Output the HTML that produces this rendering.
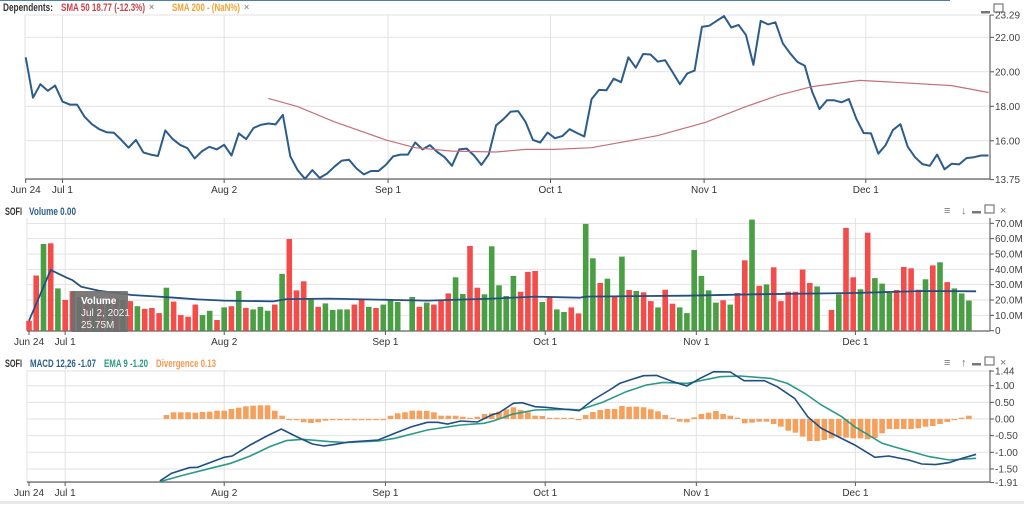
<!DOCTYPE html>
<html><head><meta charset="utf-8">
<style>
body{margin:0;background:#fff;width:1024px;height:504px;overflow:hidden;font-family:"Liberation Sans",sans-serif;}
svg text{font-family:"Liberation Sans",sans-serif;}
</style></head>
<body>
<svg id="chart" width="1024" height="504" viewBox="0 0 1024 504" xmlns="http://www.w3.org/2000/svg">
<line x1="0" y1="0.5" x2="950" y2="0.5" stroke="#4a7fb0" stroke-width="1"/>
<g font-size="11" font-weight="bold">
<text x="3" y="11" fill="#333" textLength="50" lengthAdjust="spacingAndGlyphs">Dependents:</text>
<text x="61" y="11" fill="#c9424a" textLength="84" lengthAdjust="spacingAndGlyphs">SMA 50 18.77 (-12.3%)</text>
<text x="149" y="10" fill="#999" font-size="9">×</text>
<text x="172" y="11" fill="#f0a534" textLength="68" lengthAdjust="spacingAndGlyphs">SMA 200 - (NaN%)</text>
<text x="244" y="10" fill="#999" font-size="9">×</text>
</g>
<g font-size="11" font-weight="bold">
<text x="5" y="215" fill="#333" textLength="17" lengthAdjust="spacingAndGlyphs">SOFI</text>
<text x="29" y="215" fill="#2c5f8f" textLength="47" lengthAdjust="spacingAndGlyphs">Volume 0.00</text>
</g>
<g font-size="11" font-weight="bold">
<text x="5" y="367" fill="#333" textLength="17" lengthAdjust="spacingAndGlyphs">SOFI</text>
<text x="30" y="367" fill="#2c5f8f" textLength="66" lengthAdjust="spacingAndGlyphs">MACD 12,26 -1.07</text>
<text x="104" y="367" fill="#2a9a88" textLength="44" lengthAdjust="spacingAndGlyphs">EMA 9 -1.20</text>
<text x="156" y="367" fill="#f39a50" textLength="60" lengthAdjust="spacingAndGlyphs">Divergence 0.13</text>
</g>
<g fill="#777" font-size="11">
<rect x="981" y="11" width="9" height="2.5" fill="#777"/>
<rect x="994" y="4" width="9" height="8" fill="none" stroke="#777" stroke-width="1.2"/>
<text x="944" y="214">≡</text>
<text x="961" y="214">↓</text>
<rect x="972" y="211" width="9" height="2.5" fill="#777"/>
<rect x="985" y="205" width="9" height="8" fill="none" stroke="#777" stroke-width="1.2"/>
<text x="1000" y="214">×</text>
<text x="944" y="366">≡</text>
<text x="961" y="366">↑</text>
<rect x="972" y="363" width="9" height="2.5" fill="#777"/>
<rect x="985" y="357" width="9" height="8" fill="none" stroke="#777" stroke-width="1.2"/>
<text x="1000" y="366">×</text>
</g>
<g id="g"></g>
</svg>
<script>
// ---------- data ----------
const dateTickLabels=["Jun 24","Jul 1","Aug 2","Sep 1","Oct 1","Nov 1","Dec 1"];
const dateTickIdx=[0,5,27,49.3,71.4,92.3,114.3];
const priceClose=[20.84,18.5,19.28,18.9,19.2,18.27,18.1,18.1,17.4,16.97,16.67,16.5,16.47,16.05,15.6,16.05,15.33,15.2,15.12,16.6,16.1,15.77,15.57,14.98,15.4,15.65,15.5,15.77,15.15,16.43,16.1,16.74,16.93,17.0,16.95,17.5,15.1,14.3,13.8,14.3,13.85,14.1,14.5,14.85,14.9,14.4,14.05,14.25,14.25,14.6,15.1,15.2,15.2,15.9,15.5,15.75,15.35,15.05,14.55,15.5,15.55,15.15,14.6,15.2,16.9,
17.25,17.69,17.72,17.1,16.05,15.9,16.48,16.15,16.27,16.67,16.45,16.25,18.42,18.95,18.93,19.6,19.4,20.84,20.24,21.03,21.0,20.59,20.67,19.99,19.28,19.9,20.07,22.6,22.67,22.95,23.23,22.57,22.72,22.13,20.4,22.95,22.75,22.87,21.65,21.07,20.57,20.35,18.85,17.84,18.35,18.35,18.23,18.42,17.28,16.45,16.43,15.25,15.75,16.63,16.96,15.66,15.05,14.65,14.55,15.2,14.35,14.67,14.63,15.0,15.05,15.15,15.15];
const smaIdx=[33,37,42,49,53,58,64,68,72,77,81.5,86,92.5,98,102.5,107,113.5,118,126,131];
const smaVal=[18.46,17.98,17.1,16.05,15.6,15.4,15.35,15.5,15.5,15.6,15.95,16.3,17.07,17.98,18.65,19.14,19.5,19.4,19.2,18.8];
const priceTicks=[13.75,16,18,20,22,23.29];
const priceTickLabels=["13.75","16.00","18.00","20.00","22.00","23.29"];

const volume=[6.5,36,56.5,57,27.6,20,25.75,22,20,20,19,18,21,20,19.3,16,14.3,14.8,11.5,28,19,10.2,9.1,17,10.2,13,7,15.2,16,25.9,14.8,13.9,15.6,13,17,37,59.8,26.3,32.2,20.4,15.6,17.8,13.5,13.9,13.9,17,20,15.6,14.8,17,20,18.7,0,22,15.6,18.3,17,20,24.3,34.8,23.9,55.2,28,23.7,55,
29.6,22.6,35.7,25.4,38.3,38.9,18.7,21.7,13.9,12.2,15.2,11.3,69.6,47.2,31.1,33.9,22.6,48.3,26.5,25.9,25,19.3,15.2,26.7,17.6,15.2,11.5,52.6,35.7,26.3,18.3,19.8,17,24.6,45.9,72.4,29.3,30.2,41.3,19.3,25.4,25.4,39.8,31.1,28.9,0,13.5,23.7,67,34.8,27,63.9,34.3,30.7,24.8,26.5,41.5,40.7,26.7,33.5,42.6,44.6,31.7,27.6,24.3,19.6];
const volumeUp=[0,0,1,0,1,0,0,1,0,1,0,1,0,1,0,1,0,0,0,1,0,0,0,0,1,1,0,1,0,1,0,1,1,1,0,1,0,0,0,1,0,1,1,1,1,0,0,1,0,1,1,1,1,1,0,1,0,0,0,1,1,0,0,1,1,
1,1,1,0,0,0,1,0,1,1,0,0,1,1,0,1,0,1,0,1,0,0,1,0,0,1,1,1,1,1,1,0,1,0,0,1,0,1,0,0,0,0,0,0,1,1,0,1,0,0,1,0,1,1,1,0,0,0,0,1,0,1,0,1,1,1];
const volMaIdx=[0,3,5.1,6,7.2,9.7,14.2,17.9,20.1,23.3,27,33.8,35.6,41.5,50.6,55.1,64.2,70,76.1,77,91,100.3,114.2,123.5,131];
const volMaVal=[6.5,39.6,34.8,33,28.7,26,23.3,22.2,21.5,20.4,19.6,19.1,20.6,20.9,20,19.6,20.9,22.2,21.5,22.2,22.8,23.7,24.6,25.9,25.7];
const volTicks=[0,10,20,30,40,50,60,70];
const volTickLabels=["0","10.0M","20.0M","30.0M","40.0M","50.0M","60.0M","70.0M"];

const divStart=19;
const divergence=[0.12,0.2,0.2,0.2,0.19,0.21,0.22,0.25,0.25,0.3,0.34,0.38,0.4,0.41,0.41,0.25,0.1,-0.03,-0.03,-0.1,-0.12,-0.1,-0.05,-0.02,-0.02,-0.02,-0.02,-0.02,-0.02,-0.02,-0.02,0.1,0.17,0.2,0.25,0.25,0.24,0.2,0.1,0.1,0.1,0.07,0.03,0.07,0.15,0.17,
0.22,0.29,0.35,0.27,0.2,0.1,0.09,0.02,0,0.03,0,-0.02,0.12,0.21,0.27,0.3,0.3,0.39,0.37,0.37,0.35,0.29,0.23,0.12,0,-0.08,-0.1,0.05,0.15,0.19,0.24,0.15,0.1,0.04,-0.13,-0.11,-0.08,-0.08,-0.15,-0.23,-0.35,-0.41,-0.53,-0.66,-0.66,-0.63,-0.58,-0.53,-0.56,-0.58,-0.58,-0.61,-0.57,-0.43,-0.3,-0.3,-0.3,-0.3,-0.28,-0.23,-0.21,-0.15,-0.09,-0.03,0.04,0.1];
const macdIdx=[18.1,19.7,22.2,23.3,27,28.1,30.6,32.9,34.9,37,39.2,40.8,42.4,44.2,48.3,50.6,52.9,55.1,56.5,57.9,59.7,62,64.2,64.9,67,68.2,70,71.4,73.8,76.1,78,80.3,81.7,83.1,85,86.8,89.1,91,92.8,94.7,97,98.9,101.7,103.5,105.9,107.7,109.6,111.9,114.2,116.1,117,118.9,121.7,123.5,125.4,127.3,129.1,131];
const macdVal=[-1.86,-1.63,-1.46,-1.45,-1.15,-1.11,-0.78,-0.51,-0.3,-0.53,-0.75,-0.81,-0.76,-0.69,-0.63,-0.43,-0.23,-0.1,-0.1,-0.15,-0.06,-0.09,0.14,0.17,0.47,0.49,0.37,0.35,0.3,0.25,0.57,0.87,1.07,1.17,1.3,1.31,1.12,0.99,1.22,1.42,1.41,1.15,1.15,0.97,0.62,0.07,-0.28,-0.53,-0.78,-1.03,-1.15,-1.11,-1.23,-1.35,-1.37,-1.31,-1.18,-1.06];
const emaIdx=[18.1,21.5,25.1,27.9,30.6,33.3,35.6,37.9,41.5,43.8,48.3,50.6,55.1,59.7,62.9,64.2,66.8,70,74.7,76.1,79.3,82.6,85.4,87.7,91,95.6,98.4,102.6,104.9,107.3,109.6,112.4,114.2,118,121.2,124.5,127.3,131];
const emaVal=[-1.88,-1.68,-1.48,-1.33,-1.11,-0.83,-0.65,-0.61,-0.68,-0.71,-0.66,-0.58,-0.33,-0.18,-0.13,-0.06,0.14,0.27,0.29,0.27,0.5,0.82,1.02,1.1,1.07,1.27,1.29,1.22,1.07,0.77,0.42,0.07,-0.23,-0.73,-0.93,-1.13,-1.23,-1.18];
const macdTicks=[-1.91,-1.5,-1,-0.5,0,0.5,1,1.44];
const macdTickLabels=["-1.91","-1.50","-1.00","-0.50","0.00","0.50","1.00","1.44"];

// ---------- scales ----------
const AX=990;
const px=i=>25.7+i*7.35;
const vx=i=>29+i*7.23;
const py=v=>37.3-(v-22)*17.25;
const vy=v=>330.7-v*1.534;
const my=v=>419-v*33.3;

const NS="http://www.w3.org/2000/svg";
const root=document.getElementById('g');
function mk(tag,attrs,parent){const e=document.createElementNS(NS,tag);for(const k in attrs)e.setAttribute(k,attrs[k]);(parent||root).appendChild(e);return e;}
function grp(name){const e=mk('g',{});return e;}

function panel(name,top,bottom,xf,left,yTicks,yLabels,yf,xlabY){
  const g=grp(name+'-axes');
  yTicks.forEach((t,k)=>{
    const y=yf(t);
    const l=mk('line',{x1:left,x2:AX,y1:y,y2:y,stroke:'#e2e2e2','stroke-width':1},g);
    
    
    mk('line',{x1:AX,x2:AX+4,y1:y,y2:y,stroke:'#555'},g);
    const tx=mk('text',{x:AX+5,y:y+3.5,'font-size':10,fill:'#444'},g);
    tx.textContent=yLabels[k];
    
    
  });
  dateTickIdx.forEach((d,k)=>{
    const x=xf(d);
    if(k>0){const l=mk('line',{x1:x,x2:x,y1:top,y2:bottom,stroke:'#e2e2e2'},g);
      
      }
    mk('line',{x1:x,x2:x,y1:bottom,y2:bottom+4,stroke:'#555'},g);
    const tx=mk('text',{x:x,y:xlabY,'font-size':10,fill:'#333','text-anchor':'middle'},g);
    tx.textContent=dateTickLabels[k];
    
    
  });
  mk('line',{x1:left,x2:left,y1:top,y2:bottom,stroke:'#e2e2e2'},g);
  mk('line',{x1:left,x2:AX,y1:bottom,y2:bottom,stroke:'#666','stroke-width':1.2},g);
  mk('line',{x1:AX,x2:AX,y1:top,y2:bottom,stroke:'#666','stroke-width':1.2},g);
}
panel('price',15,179,px,25,priceTicks,priceTickLabels,py,193);
panel('volume',218,331,vx,27,volTicks,volTickLabels,vy,345);
panel('macd',370,482,vx,27,macdTicks,macdTickLabels,my,496);

let d=priceClose.map((v,i)=>(i?'L':'M')+px(i).toFixed(1)+','+py(v).toFixed(1)).join('');
const pl=mk('path',{d:d,fill:'none',stroke:'#2b5c8c','stroke-width':2,'stroke-linejoin':'round'});


d=smaIdx.map((v,i)=>(i?'L':'M')+px(v).toFixed(1)+','+py(smaVal[i]).toFixed(1)).join('');
const sl=mk('path',{d:d,fill:'none',stroke:'#c5707a','stroke-width':1.2});



const vb=grp('volume-bars');
volume.forEach((v,i)=>{
  if(v<=0)return;
  const r=mk('rect',{x:(vx(i)-2.8).toFixed(1),y:vy(v).toFixed(1),width:5.6,height:(v*1.534).toFixed(1),fill:volumeUp[i]?'#4a9e44':'#f44b4b'},vb);
  
  
});
d=volMaIdx.map((v,i)=>(i?'L':'M')+vx(v).toFixed(1)+','+vy(volMaVal[i]).toFixed(1)).join('');
const vm=mk('path',{d:d,fill:'none',stroke:'#244f80','stroke-width':1.8});



const db=grp('divergence-bars');
divergence.forEach((v,i)=>{
  const x=vx(divStart+i);
  const h=Math.max(Math.abs(v)*33.3,1.2);
  const y=v>=0?my(0)-h:my(0);
  const r=mk('rect',{x:(x-2.8).toFixed(1),y:y.toFixed(1),width:5.6,height:h.toFixed(1),fill:'#f5a05c'},db);
  
  
});
d=emaIdx.map((v,i)=>(i?'L':'M')+vx(v).toFixed(1)+','+my(emaVal[i]).toFixed(1)).join('');
const el=mk('path',{d:d,fill:'none',stroke:'#2a9a88','stroke-width':1.6});


d=macdIdx.map((v,i)=>(i?'L':'M')+vx(v).toFixed(1)+','+my(macdVal[i]).toFixed(1)).join('');
const ml=mk('path',{d:d,fill:'none',stroke:'#1f4f84','stroke-width':1.6});



const tt=grp('volume-tooltip');
mk('rect',{x:71,y:291,width:57,height:41,fill:'#6f6f6f',opacity:0.92,rx:1},tt);
const t1=mk('text',{x:81,y:304,'font-size':10,fill:'#fff','font-weight':'bold'},tt);t1.textContent='Volume';
const t2=mk('text',{x:81,y:316,'font-size':10,fill:'#eee'},tt);t2.textContent='Jul 2, 2021';
const t3=mk('text',{x:81,y:328,'font-size':10,fill:'#eee'},tt);t3.textContent='25.75M';

mk('rect',{x:0,y:501,width:1024,height:3,fill:'#e8e8e8'});
</script>
</body></html>
